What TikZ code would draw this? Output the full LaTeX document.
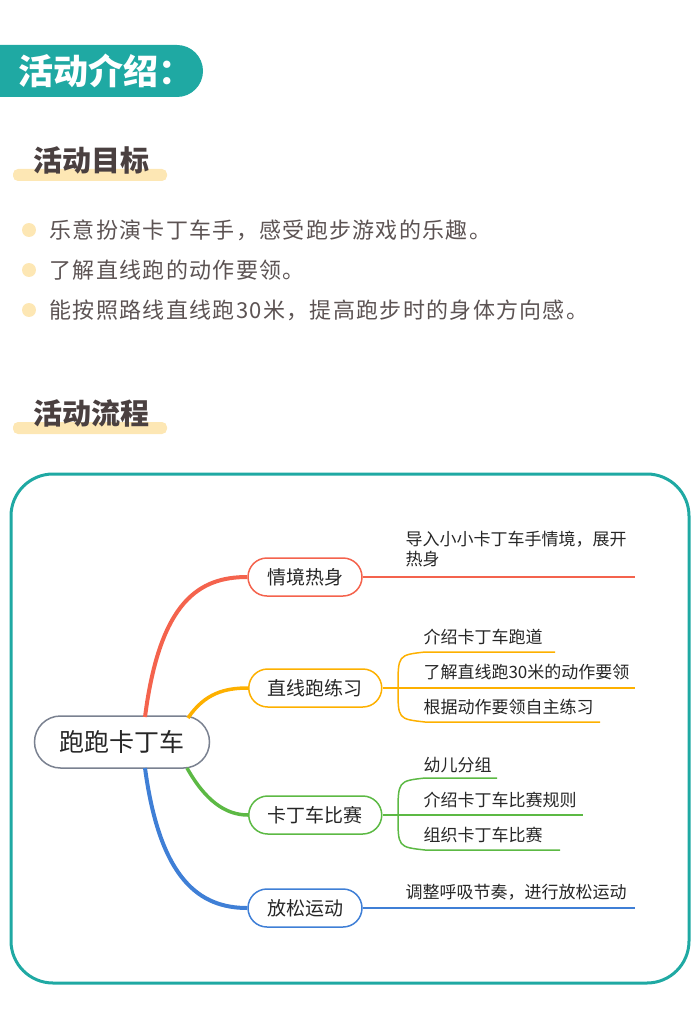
\documentclass[tikz,border=0pt]{standalone}
\usepackage{fontspec}
\setmainfont{Noto Sans CJK SC}
\usetikzlibrary{positioning}
\definecolor{teal}{HTML}{1FA9A3}
\definecolor{hilite}{HTML}{FDE7B4}
\definecolor{brownt}{HTML}{4A4040}
\definecolor{cred}{HTML}{F4634D}
\definecolor{corange}{HTML}{FDB000}
\definecolor{cgreen}{HTML}{5CB944}
\definecolor{cblue}{HTML}{3F7FD6}
\definecolor{cgrey}{HTML}{7A8190}
\tikzset{
  title/.style={anchor=center,text=brownt,font=\fontsize{29}{33}\selectfont\bfseries},
  goal/.style={anchor=west,text=brownt!90,font=\fontsize{22}{27}\selectfont\addfontfeature{LetterSpace=6}},
  topic/.style={draw=#1,line width=1.5pt,rounded corners=19pt,minimum height=38pt,font=\fontsize{19}{22}\selectfont,text=black!85},
  leaf/.style={anchor=west,font=\fontsize{17}{20}\selectfont,text=black!85,align=left},
}
\begin{document}
\begin{tikzpicture}[x=1pt,y=-1pt]
\useasboundingbox (0,0) rectangle (700,1035);

% header
\fill[teal,rounded corners=26pt] (-30,45) rectangle (203,97);
\node[text=white,font=\fontsize{35}{38}\selectfont\bfseries] (hdr) at (106,71) {活动介绍：};

% goals
\fill[hilite,rounded corners=5pt] (13,169) rectangle (167,181);
\node[title] (goaltitle) at (91,160) {活动目标};
\foreach \y/\t in {230/乐意扮演卡丁车手，感受跑步游戏的乐趣。,
                   270/了解直线跑的动作要领。,
                   310/能按照路线直线跑30米，提高跑步时的身体方向感。}{
  \fill[hilite] (29,\y) circle (7);
  \node[goal] at (46,\y) {\t};
}

% flow
\fill[hilite,rounded corners=5pt] (13,422) rectangle (167,434);
\node[title] (flowtitle) at (91,413) {活动流程};
\draw[teal,line width=3pt,rounded corners=42pt] (11,474) rectangle (689,983);

% mind map
\node[draw=cgrey,line width=1.5pt,rounded corners=26pt,minimum width=175pt,minimum height=52pt,font=\fontsize{25}{28}\selectfont,text=black!85] (root) at (122,742) {跑跑卡丁车};
\node[topic=cred,minimum width=114pt] (warm) at (305,577) {情境热身};
\node[topic=corange,minimum width=133pt,anchor=west] (run) at (248,688) {直线跑练习};
\node[topic=cgreen,minimum width=133pt,anchor=west] (race) at (248,815) {卡丁车比赛};
\node[topic=cblue,minimum width=114pt] (relax) at (305,908) {放松运动};

\draw[cred,line width=4pt] (145,717) .. controls (160,600) and (200,577) .. (warm.west);
\draw[corange,line width=3.5pt] (188,718) .. controls (205,693) and (225,688) .. (run.west);
\draw[cgreen,line width=3.5pt] (187,768) .. controls (205,800) and (225,815) .. (race.west);
\draw[cblue,line width=4pt] (145,768) .. controls (160,880) and (200,908) .. (relax.west);

% leaves
\coordinate (w1) at (635,577);
\draw[cred,line width=1.5pt] (warm.east) -- (w1);
\node[leaf,anchor=south west] (w1t) at (402,571) {导入小小卡丁车手情境，展开\\热身};

\coordinate (rj) at (398,688);
\draw[corange,line width=1.5pt] (run.east) -- (rj) -- (635,688);
\draw[corange,line width=1.5pt] (rj) .. controls (398,655) .. (425,652) -- (555,652);
\draw[corange,line width=1.5pt] (rj) .. controls (398,719) .. (425,722) -- (600,722);
\node[leaf] (r1) at (420,637) {介绍卡丁车跑道};
\node[leaf] (r2) at (420,672) {了解直线跑30米的动作要领};
\node[leaf] (r3) at (420,707) {根据动作要领自主练习};

\coordinate (cj) at (398,815);
\draw[cgreen,line width=1.5pt] (race.east) -- (cj) -- (583,815);
\draw[cgreen,line width=1.5pt] (cj) .. controls (398,781) .. (425,778) -- (497,778);
\draw[cgreen,line width=1.5pt] (cj) .. controls (398,847) .. (425,850) -- (560,850);
\node[leaf] (c1) at (420,765) {幼儿分组};
\node[leaf] (c2) at (420,800) {介绍卡丁车比赛规则};
\node[leaf] (c3) at (420,835) {组织卡丁车比赛};

\draw[cblue,line width=1.5pt] (relax.east) -- (635,908);
\node[leaf] (b1) at (402,892) {调整呼吸节奏，进行放松运动};
\end{tikzpicture}
\end{document}
